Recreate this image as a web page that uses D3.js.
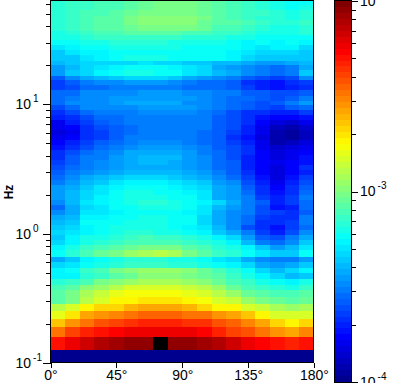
<!DOCTYPE html>
<html>
<head>
<meta charset="utf-8">
<script src="https://cdn.jsdelivr.net/npm/d3@7"></script>
<style>
  html, body { margin: 0; padding: 0; background: #fff; }
  svg { display: block; }
  text { font-family: "Liberation Sans", Arial, sans-serif; font-size: 14px; fill: #000; }
  .axis path, .axis line { stroke: #000; stroke-width: 1; shape-rendering: crispEdges; }
</style>
</head>
<body>
<svg width="418" height="383"></svg>
<script>
// Left edge of each angle column, degrees.
var angleEdges = [0,10,20,30,40,50,60,70,80,90,100,110,120,130,140,150,160,170];

// Frequency band edges, Hz, top of the plot to the bottom.
var freqEdges = [63.5,58.1,53.2,48.6,44.5,40.7,37.2,34.1,31.2,28.5,26.1,23.9,21.8,20.0,18.3,16.7,15.3,14.0,12.8,11.7,
  10.7,9.8,8.97,8.21,7.51,6.87,6.28,5.75,5.26,4.81,4.40,4.03,3.69,3.37,3.09,2.82,2.58,2.36,2.16,1.98,
  1.81,1.66,1.52,1.39,1.27,1.16,1.06,0.974,0.891,0.815,0.746,0.659,0.602,0.541,0.495,0.445,0.400,0.366,0.323,0.286,
  0.252,0.219,0.190,0.159,0.126,0.100];

// Colour bar level of each cell (0 = 1e-4, 64 = 1e-2 and above, one row per band).
var levels = [
  [26,27,27,28,28,29,30,31,31,31,30,29,28,27,26,25,24,24],
  [26,27,27,28,28,29,30,31,31,31,30,29,28,27,26,25,24,25],
  [26,27,28,28,29,30,31,31,31,31,30,29,28,27,27,26,25,26],
  [26,27,28,29,29,31,32,32,32,32,31,29,28,27,26,26,25,26],
  [26,27,28,29,29,31,32,32,32,32,30,29,29,28,27,26,26,27],
  [26,27,28,29,29,30,31,31,31,31,30,28,28,27,26,25,25,26],
  [25,26,27,28,28,29,29,29,29,28,28,27,27,26,25,25,25,26],
  [25,25,26,27,27,27,27,27,27,26,26,26,25,25,24,24,24,24],
  [24,24,25,25,26,26,26,26,25,25,25,25,24,23,24,23,24,23],
  [22,23,24,24,25,25,25,25,25,24,24,24,24,23,22,23,23,21],
  [20,22,23,23,24,24,24,24,24,24,24,24,23,22,21,21,21,20],
  [20,20,22,23,24,25,25,25,24,24,24,24,23,21,20,20,20,20],
  [19,20,21,21,21,21,22,21,21,20,20,19,19,18,17,17,18,19],
  [17,19,21,22,23,24,24,24,23,22,21,18,17,16,15,14,15,18],
  [17,20,21,23,24,25,25,24,24,22,21,19,18,16,15,14,15,20],
  [13,16,18,19,20,21,21,21,20,18,17,16,15,13,12,11,12,16],
  [11,13,15,16,16,17,17,17,16,15,14,14,13,10,9,8,10,11],
  [11,12,14,14,15,15,15,15,15,14,14,14,13,11,9,8,9,10],
  [14,14,16,16,16,16,17,17,17,16,16,15,15,13,13,12,12,13],
  [14,15,16,16,17,17,17,17,17,17,16,15,14,14,13,12,13,15],
  [14,16,16,16,17,18,18,18,18,16,16,15,14,13,12,13,15,17],
  [12,14,16,16,16,16,17,17,17,17,16,15,14,13,12,11,13,14],
  [10,12,14,15,15,15,16,16,16,16,15,14,12,10,10,9,9,11],
  [9,10,12,14,14,15,15,15,15,15,15,13,12,10,8,7,7,8],
  [6,9,11,13,14,15,15,15,15,15,15,13,12,10,7,5,4,6],
  [6,7,10,12,13,14,15,15,15,15,15,13,12,9,6,3,2,4],
  [5,6,10,11,13,14,15,15,15,15,14,13,11,9,6,2,1,3],
  [6,7,10,11,13,15,15,15,15,15,14,13,10,8,5,2,1,3],
  [7,9,11,13,14,15,16,16,16,15,14,13,11,9,6,2,3,5],
  [8,10,12,14,15,16,17,17,17,16,15,13,12,10,6,4,5,6],
  [10,12,14,15,16,18,18,18,18,17,15,14,12,10,7,5,6,7],
  [10,13,15,15,17,18,19,19,19,17,16,14,12,9,7,5,6,8],
  [11,13,15,16,17,18,19,19,18,17,16,14,13,9,7,6,7,8],
  [12,14,15,16,17,18,18,18,18,17,16,14,13,9,7,5,7,10],
  [13,15,16,17,18,19,19,19,19,18,17,15,13,10,7,5,7,9],
  [14,16,18,19,20,21,21,21,20,19,18,16,14,11,8,5,8,11],
  [15,17,19,20,22,23,23,23,22,21,20,17,16,12,9,6,9,12],
  [17,18,20,22,23,24,24,24,23,22,21,18,17,13,10,7,10,13],
  [17,19,21,22,24,25,25,24,24,23,22,18,17,14,10,8,10,14],
  [17,19,21,23,24,25,25,25,24,24,22,18,17,15,11,9,11,15],
  [16,19,22,23,24,25,26,26,25,24,23,21,18,15,13,9,11,14],
  [14,18,21,22,24,24,25,25,25,24,22,19,17,15,12,8,9,14],
  [16,18,22,22,23,24,24,24,24,23,22,18,16,15,12,11,10,13],
  [18,19,23,23,24,24,25,25,24,24,21,18,16,14,11,10,10,15],
  [19,20,24,24,24,25,25,25,24,24,21,18,16,14,10,10,11,15],
  [20,21,23,24,25,25,25,25,24,23,22,19,16,12,10,8,11,14],
  [21,22,23,24,25,26,26,25,25,24,23,20,18,15,11,9,12,16],
  [20,23,25,25,26,27,28,27,27,26,25,23,21,17,13,12,15,18],
  [21,23,25,26,27,28,28,28,28,27,26,25,23,19,15,14,16,20],
  [23,25,27,28,29,30,31,31,31,29,28,26,25,23,20,17,19,22],
  [24,26,28,30,31,33,34,35,34,31,29,27,26,24,22,20,20,24],
  [18,20,23,24,25,26,26,26,25,25,24,22,21,18,16,15,15,17],
  [21,22,24,25,26,27,27,27,26,26,25,24,23,21,18,17,18,20],
  [23,24,27,28,31,32,33,33,33,32,30,28,26,24,21,19,21,23],
  [23,23,26,27,29,30,32,32,32,31,30,29,27,25,23,21,19,20],
  [26,27,28,31,32,33,34,34,34,33,32,30,28,27,25,24,23,25],
  [28,29,32,33,35,37,37,37,37,36,35,33,30,28,27,26,25,27],
  [29,31,34,36,38,39,39,39,39,38,37,35,33,30,29,28,28,29],
  [29,31,35,37,40,40,41,41,41,40,39,37,36,33,31,30,29,30],
  [35,37,40,42,42,44,45,45,45,44,42,40,40,37,36,34,33,34],
  [38,41,45,46,47,48,49,49,49,48,48,46,45,43,40,37,37,37],
  [43,46,48,50,51,52,53,53,53,52,52,50,49,47,45,42,40,42],
  [48,51,53,54,55,56,56,56,56,56,55,53,51,50,48,46,45,47],
  [54,56,58,60,61,62,62,64,62,62,61,60,58,56,55,54,53,54],
  [0,0,0,0,0,0,0,0,0,0,0,0,0,0,0,0,0,0]
];

var xTicks = [0,45,90,135,180];
var freqDecades = [0.1,1,10];
var freqMinor = [0.2,0.3,0.4,0.5,0.6,0.7,0.8,0.9,2,3,4,5,6,7,8,9,20,30,40,50,60];
var psdDecades = [1e-4,1e-3,1e-2];
var psdMinor = [2e-4,3e-4,4e-4,5e-4,6e-4,7e-4,8e-4,9e-4,2e-3,3e-3,4e-3,5e-3,6e-3,7e-3,8e-3,9e-3];

var margin = { left: 50.5, right: 314, top: 0.5, bottom: 363 }
  , bar = { left: 335, right: 351, top: 1, bottom: 382 }
  , nLevels = 64
  , columnWidth = 10
;

var svg = d3.select("svg");

var xScale = d3.scaleLinear().domain([0,180]).range([margin.left, margin.right])
  , yScale = d3.scaleLog().domain([0.1,63.5]).range([margin.bottom, margin.top])
  , psdScale = d3.scaleLog().domain([1e-4,1e-2]).range([bar.bottom, bar.top])
  // jet colour map, one stop per corner of the map
  , jet = d3.scaleLinear()
      .domain([0,7,23.5,39.5,55,63])
      .range(["#00008f","#0000ff","#00ffff","#ffff00","#ff0000","#800000"])
      .clamp(true)
;

function levelColor(level){
  return level >= nLevels ? "#000" : jet(level);
}

// "10" with the exponent raised, as real text.
function powerLabel(sel, exponent){
  sel.text("10");
  sel.append("tspan")
      .attr("dy", -7)
      .attr("dx", 2)
      .style("font-size", "10px")
      .text(exponent);
}

// The cells.
var rows = svg.append("g").selectAll("g")
    .data(levels)
  .enter().append("g");

rows.selectAll("rect")
    .data(function (d, i){
      return d.map(function (level, j){
        return { level: level, angle: angleEdges[j], top: freqEdges[i], bottom: freqEdges[i + 1] };
      });
    })
  .enter().append("rect")
    .attr("x", function (d){ return xScale(d.angle); })
    .attr("y", function (d){ return yScale(d.top); })
    .attr("width", function (d){ return xScale(d.angle + columnWidth) - xScale(d.angle); })
    .attr("height", function (d){ return yScale(d.bottom) - yScale(d.top); })
    .attr("fill", function (d){ return levelColor(d.level); })
    .attr("shape-rendering", "crispEdges");

// Plot frame.
svg.append("rect")
    .attr("x", margin.left)
    .attr("y", margin.top)
    .attr("width", 263)
    .attr("height", margin.bottom - margin.top - 0.5)
    .attr("fill", "none")
    .attr("stroke", "#000")
    .attr("shape-rendering", "crispEdges");

// Frequency axis.
svg.append("g").attr("class", "axis")
    .attr("transform", "translate(" + margin.left + ",0)")
    .call(d3.axisLeft(yScale).tickValues(freqMinor).tickSize(5).tickFormat(""))
  .select(".domain").remove();

var yMajor = svg.append("g").attr("class", "axis")
    .attr("transform", "translate(" + margin.left + ",0)")
    .call(d3.axisLeft(yScale).tickValues(freqDecades).tickSize(8).tickFormat(""));
yMajor.select(".domain").remove();
yMajor.selectAll(".tick text")
    .attr("x", -35)
    .attr("dy", "0.32em")
    .attr("text-anchor", "start")
    .each(function (d){ powerLabel(d3.select(this), Math.round(Math.log10(d))); });

svg.append("text")
    .attr("transform", "translate(13,192) rotate(-90)")
    .attr("text-anchor", "middle")
    .style("font-weight", "bold")
    .style("font-size", "12px")
    .text("Hz");

// Angle axis.
var xAxisG = svg.append("g").attr("class", "axis")
    .attr("transform", "translate(0," + margin.bottom + ")")
    .call(d3.axisBottom(xScale)
      .tickValues(xTicks)
      .tickSize(5)
      .tickSizeOuter(0)
      .tickFormat(function (d){ return d + "°"; }));
xAxisG.select(".domain").remove();
xAxisG.selectAll(".tick text").attr("y", 7).attr("dy", "0.71em");

// Colour bar.
svg.append("g").selectAll("rect")
    .data(d3.range(nLevels))
  .enter().append("rect")
    .attr("x", bar.left)
    .attr("y", function (d){ return psdScale(Math.pow(10, -4 + (d + 1) / 32)); })
    .attr("width", bar.right - bar.left)
    .attr("height", function (d){
      return psdScale(Math.pow(10, -4 + d / 32)) - psdScale(Math.pow(10, -4 + (d + 1) / 32));
    })
    .attr("fill", function (d){ return levelColor(d); })
    .attr("shape-rendering", "crispEdges");

svg.append("rect")
    .attr("x", bar.left - 0.5)
    .attr("y", 0.5)
    .attr("width", bar.right - bar.left + 1)
    .attr("height", 382)
    .attr("fill", "none")
    .attr("stroke", "#000")
    .attr("shape-rendering", "crispEdges");

svg.append("g").attr("class", "axis")
    .attr("transform", "translate(" + bar.right + ",0)")
    .call(d3.axisRight(psdScale).tickValues(psdMinor).tickSize(5).tickFormat(""))
  .select(".domain").remove();

var barMajor = svg.append("g").attr("class", "axis")
    .attr("transform", "translate(" + bar.right + ",0)")
    .call(d3.axisRight(psdScale).tickValues(psdDecades).tickSize(7).tickFormat(""));
barMajor.select(".domain").remove();
barMajor.selectAll(".tick text")
    .attr("x", 9)
    .attr("dy", "0.32em")
    .attr("text-anchor", "start")
    .each(function (d){ powerLabel(d3.select(this), Math.round(Math.log10(d))); });
</script>
</body>
</html>
